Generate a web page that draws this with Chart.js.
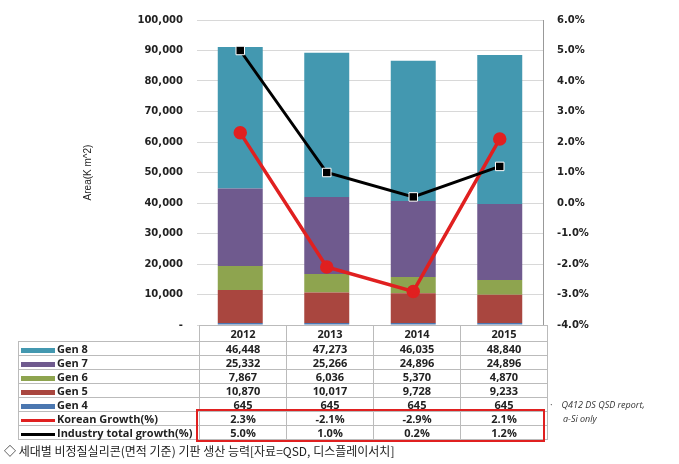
<!DOCTYPE html>
<html>
<head>
<meta charset="utf-8">
<script src="https://cdn.jsdelivr.net/npm/chart.js@4"></script>
<style>
    body { margin: 0; background: #fff; font-family: "Open Sans", "DejaVu Sans", sans-serif; }
    #wrap { position: relative; width: 679px; height: 464px; }
    #chartBox { position: absolute; left: 0; top: 0; width: 679px; height: 345px; }
    table { position: absolute; left: 18px; top: 325px; border-collapse: collapse; font-size: 11px; font-weight: bold; color: #222; }
    td { border: 1px solid #bbb; height: 13px; padding: 0; line-height: 13px; text-align: center; width: 86px; }
    td.lab { width: 178px; text-align: left; padding-left: 2px; }
    tr.head td { height: 15px; }
    tr.head td.lab { border: none; }
    .sw { display: inline-block; width: 34px; height: 5px; vertical-align: middle; margin-right: 2px; }
    #redBox { position: absolute; left: 196px; top: 409px; width: 345px; height: 29px; border: 2px solid #e02020; }
    .note { position: absolute; left: 550px; font-size: 9px; font-style: italic; color: #333; }
    #caption { position: absolute; left: 4px; top: 442px; font-family: "Noto Sans CJK KR", sans-serif; font-size: 12px; color: #222; }
</style>
</head>
<body>
<div id="wrap">
    <div id="chartBox"><canvas id="chart"></canvas></div>
    <table id="tbl"></table>
    <div id="redBox"></div>
    <div class="note" style="top:398px">·&nbsp;&nbsp;&nbsp; Q412 DS QSD report,</div>
    <div class="note" style="top:412px;left:563px">a-Si only</div>
    <div id="caption">◇ 세대별 비정질실리콘(면적 기준) 기판 생산 능력[자료=QSD, 디스플레이서치]</div>
</div>
<script>
    const years = ["2012", "2013", "2014", "2015"];
    const gen4 = [645, 645, 645, 645];
    const gen5 = [10870, 10017, 9728, 9233];
    const gen6 = [7867, 6036, 5370, 4870];
    const gen7 = [25332, 25266, 24896, 24896];
    const gen8 = [46448, 47273, 46035, 48840];
    const koreanGrowth = [2.3, -2.1, -2.9, 2.1];
    const industryGrowth = [5.0, 1.0, 0.2, 1.2];

    const colors = { gen8: "#4398b0", gen7: "#6f5a8e", gen6: "#8ea44f", gen5: "#a9463f", gen4: "#4b77b0" };

    // tableau sous le graphique
    const tbl = document.getElementById("tbl");
    function fmt(v) { return v.toLocaleString("en-US"); }
    let html = '<tr class="head"><td class="lab"></td>' + years.map(y => "<td>" + y + "</td>").join("") + "</tr>";
    const rows = [["Gen 8", gen8, colors.gen8], ["Gen 7", gen7, colors.gen7], ["Gen 6", gen6, colors.gen6],
                  ["Gen 5", gen5, colors.gen5], ["Gen 4", gen4, colors.gen4]];
    rows.forEach(r => {
        html += '<tr><td class="lab"><span class="sw" style="background:' + r[2] + '"></span>' + r[0] + "</td>" +
            r[1].map(v => "<td>" + fmt(v) + "</td>").join("") + "</tr>";
    });
    html += '<tr><td class="lab"><span class="sw" style="background:#e02020;height:3px"></span>Korean Growth(%)</td>' +
        koreanGrowth.map(v => "<td>" + v.toFixed(1) + "%</td>").join("") + "</tr>";
    html += '<tr><td class="lab"><span class="sw" style="background:#000;height:3px"></span>Industry total growth(%)</td>' +
        industryGrowth.map(v => "<td>" + v.toFixed(1) + "%</td>").join("") + "</tr>";
    tbl.innerHTML = html;

    const tickFont = { family: "Verdana, 'DejaVu Sans', sans-serif", size: 10, weight: "bold" };

    new Chart(document.getElementById("chart"), {
        type: "bar",
        data: {
            labels: years,
            datasets: [
                { type: "line", label: "Industry total growth(%)", data: industryGrowth, yAxisID: "y1",
                  borderColor: "#000", borderWidth: 3, pointStyle: "rect", pointRadius: 6,
                  pointBackgroundColor: "#000", pointBorderColor: "#fff", pointBorderWidth: 1, order: 0 },
                { type: "line", label: "Korean Growth(%)", data: koreanGrowth, yAxisID: "y1",
                  borderColor: "#e02020", borderWidth: 3.5, pointRadius: 5,
                  pointBackgroundColor: "#e02020", pointBorderColor: "#e02020", order: 1 },
                { label: "Gen 4", data: gen4, backgroundColor: colors.gen4, stack: "s", order: 2 },
                { label: "Gen 5", data: gen5, backgroundColor: colors.gen5, stack: "s", order: 2 },
                { label: "Gen 6", data: gen6, backgroundColor: colors.gen6, stack: "s", order: 2 },
                { label: "Gen 7", data: gen7, backgroundColor: colors.gen7, stack: "s", order: 2 },
                { label: "Gen 8", data: gen8, backgroundColor: colors.gen8, stack: "s", order: 2 }
            ]
        },
        options: {
            responsive: true,
            maintainAspectRatio: false,
            animation: false,
            datasets: { bar: { barPercentage: 0.52, categoryPercentage: 1 } },
            layout: { padding: { left: 78, top: 10, bottom: 5, right: 0 } },
            plugins: { legend: { display: false }, tooltip: { enabled: false } },
            scales: {
                x: { stacked: true, display: false },
                y: {
                    stacked: true, min: 0, max: 100000,
                    ticks: { stepSize: 10000, color: "#222", font: tickFont, padding: 14,
                             callback: v => v === 0 ? "-" : v.toLocaleString("en-US") },
                    grid: { color: "#d8d8d8", drawTicks: false },
                    border: { display: false },
                    title: { display: true, text: "Area(K m^2)", color: "#222", font: { size: 10 } },
                    afterFit: s => { s.width = 119; }
                },
                y1: {
                    position: "right", min: -4, max: 6,
                    ticks: { stepSize: 1, color: "#222", font: tickFont, padding: 6,
                             callback: v => v.toFixed(1) + "%" },
                    grid: { display: false },
                    border: { display: true, color: "#999" },
                    afterFit: s => { s.width = 136; }
                }
            }
        }
    });
</script>
</body>
</html>
